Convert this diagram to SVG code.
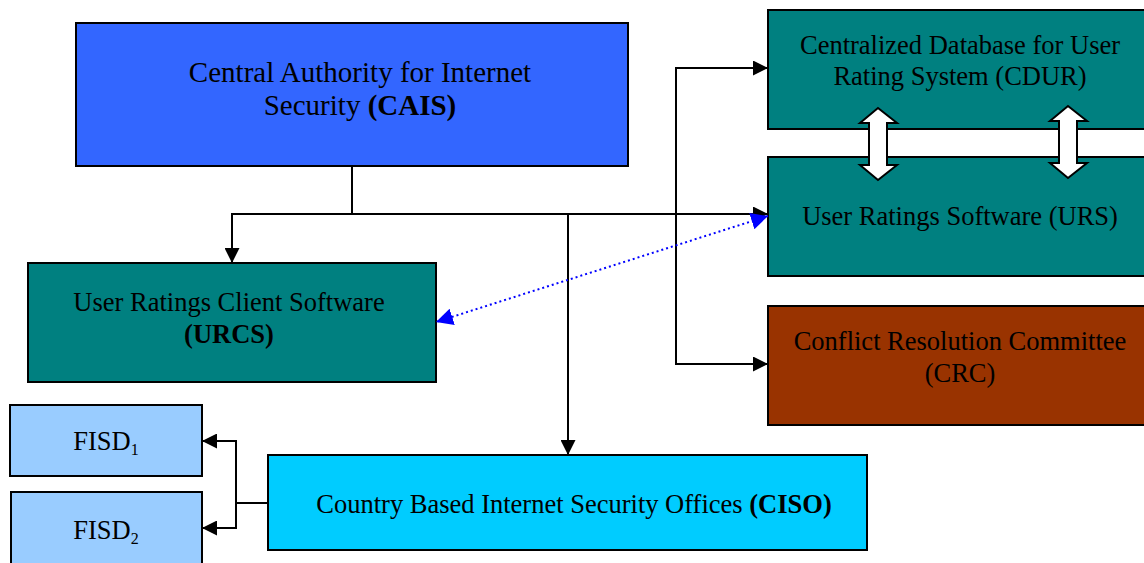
<svg xmlns="http://www.w3.org/2000/svg" width="1144" height="563" viewBox="0 0 1144 563">
<defs>
<style>
.box{stroke:#000;stroke-width:2}
.t{font-family:"Liberation Serif","Times New Roman",serif;font-size:26.5px;fill:#000;text-anchor:middle}
.big{font-size:29px}
.b{font-weight:bold}
.c{fill:none;stroke:#000;stroke-width:2}
.d{fill:none;stroke:#0000FF;stroke-width:2;stroke-dasharray:2,3}
.dbl{fill:#fff;stroke:#000;stroke-width:2}
</style>
<marker id="ah" viewBox="0 0 10 10" refX="10" refY="5" markerWidth="15" markerHeight="15" markerUnits="userSpaceOnUse" orient="auto"><path d="M0,0 L10,5 L0,10 Z" fill="#000"/></marker>
<marker id="bh" viewBox="0 0 10 10" refX="10" refY="5" markerWidth="17" markerHeight="17" markerUnits="userSpaceOnUse" orient="auto-start-reverse"><path d="M0,0 L10,5 L0,10 Z" fill="#0000FF"/></marker>
</defs>
<rect width="1144" height="563" fill="#fff"/>
<g id="cais"><rect class="box" x="76" y="23" width="552" height="143" fill="#3366FF"/>
<text class="t big" x="360" y="82">Central Authority for Internet</text>
<text class="t big" x="360" y="115">Security <tspan class="b">(CAIS)</tspan></text></g>
<g id="cdur"><rect class="box" x="768" y="10" width="380" height="119" fill="#008080"/>
<text class="t" x="960" y="54">Centralized Database for User</text>
<text class="t" x="960" y="85">Rating System (CDUR)</text></g>
<g id="urs"><rect class="box" x="768" y="157" width="380" height="119" fill="#008080"/>
<text class="t" x="960" y="225">User Ratings Software (URS)</text></g>
<g id="crc"><rect class="box" x="768" y="306" width="380" height="119" fill="#993300"/>
<text class="t" x="960" y="350">Conflict Resolution Committee</text>
<text class="t" x="960" y="382">(CRC)</text></g>
<g id="urcs"><rect class="box" x="28" y="263" width="408" height="119" fill="#008080"/>
<text class="t" x="229" y="311">User Ratings Client Software</text>
<text class="t b" x="229" y="343">(URCS)</text></g>
<g id="ciso"><rect class="box" x="268" y="455" width="599" height="95" fill="#00CCFF"/>
<text class="t" x="574" y="513">Country Based Internet Security Offices <tspan class="b">(CISO)</tspan></text></g>
<g id="fisd1"><rect class="box" x="10" y="405" width="192" height="71" fill="#99CCFF"/>
<text class="t" x="106" y="450">FISD<tspan font-size="16" dy="5">1</tspan></text></g>
<g id="fisd2"><rect class="box" x="11" y="492" width="191" height="75" fill="#99CCFF"/>
<text class="t" x="106" y="539">FISD<tspan font-size="16" dy="5">2</tspan></text></g>
<g id="connectors">
<path class="c" d="M352,166 V214 H768" marker-end="url(#ah)"/>
<path class="c" d="M352,214 H232 V263" marker-end="url(#ah)"/>
<path class="c" d="M568,214 V455" marker-end="url(#ah)"/>
<path class="c" d="M676,214 V68 H768" marker-end="url(#ah)"/>
<path class="c" d="M676,214 V364 H768" marker-end="url(#ah)"/>
<path class="c" d="M268,503 H236 V441 H202" marker-end="url(#ah)"/>
<path class="c" d="M236,503 V528 H202" marker-end="url(#ah)"/>
<path class="d" d="M768,216 L436,322" marker-start="url(#bh)" marker-end="url(#bh)"/>
<path class="dbl" d="M878,108 L897,123 L887,123 L887,165 L897,165 L878,180 L860,165 L869,165 L869,123 L860,123 Z"/>
<path class="dbl" d="M1068,106 L1087,121 L1077,121 L1077,163 L1087,163 L1068,178 L1050,163 L1059,163 L1059,121 L1050,121 Z"/>
</g>
</svg>
